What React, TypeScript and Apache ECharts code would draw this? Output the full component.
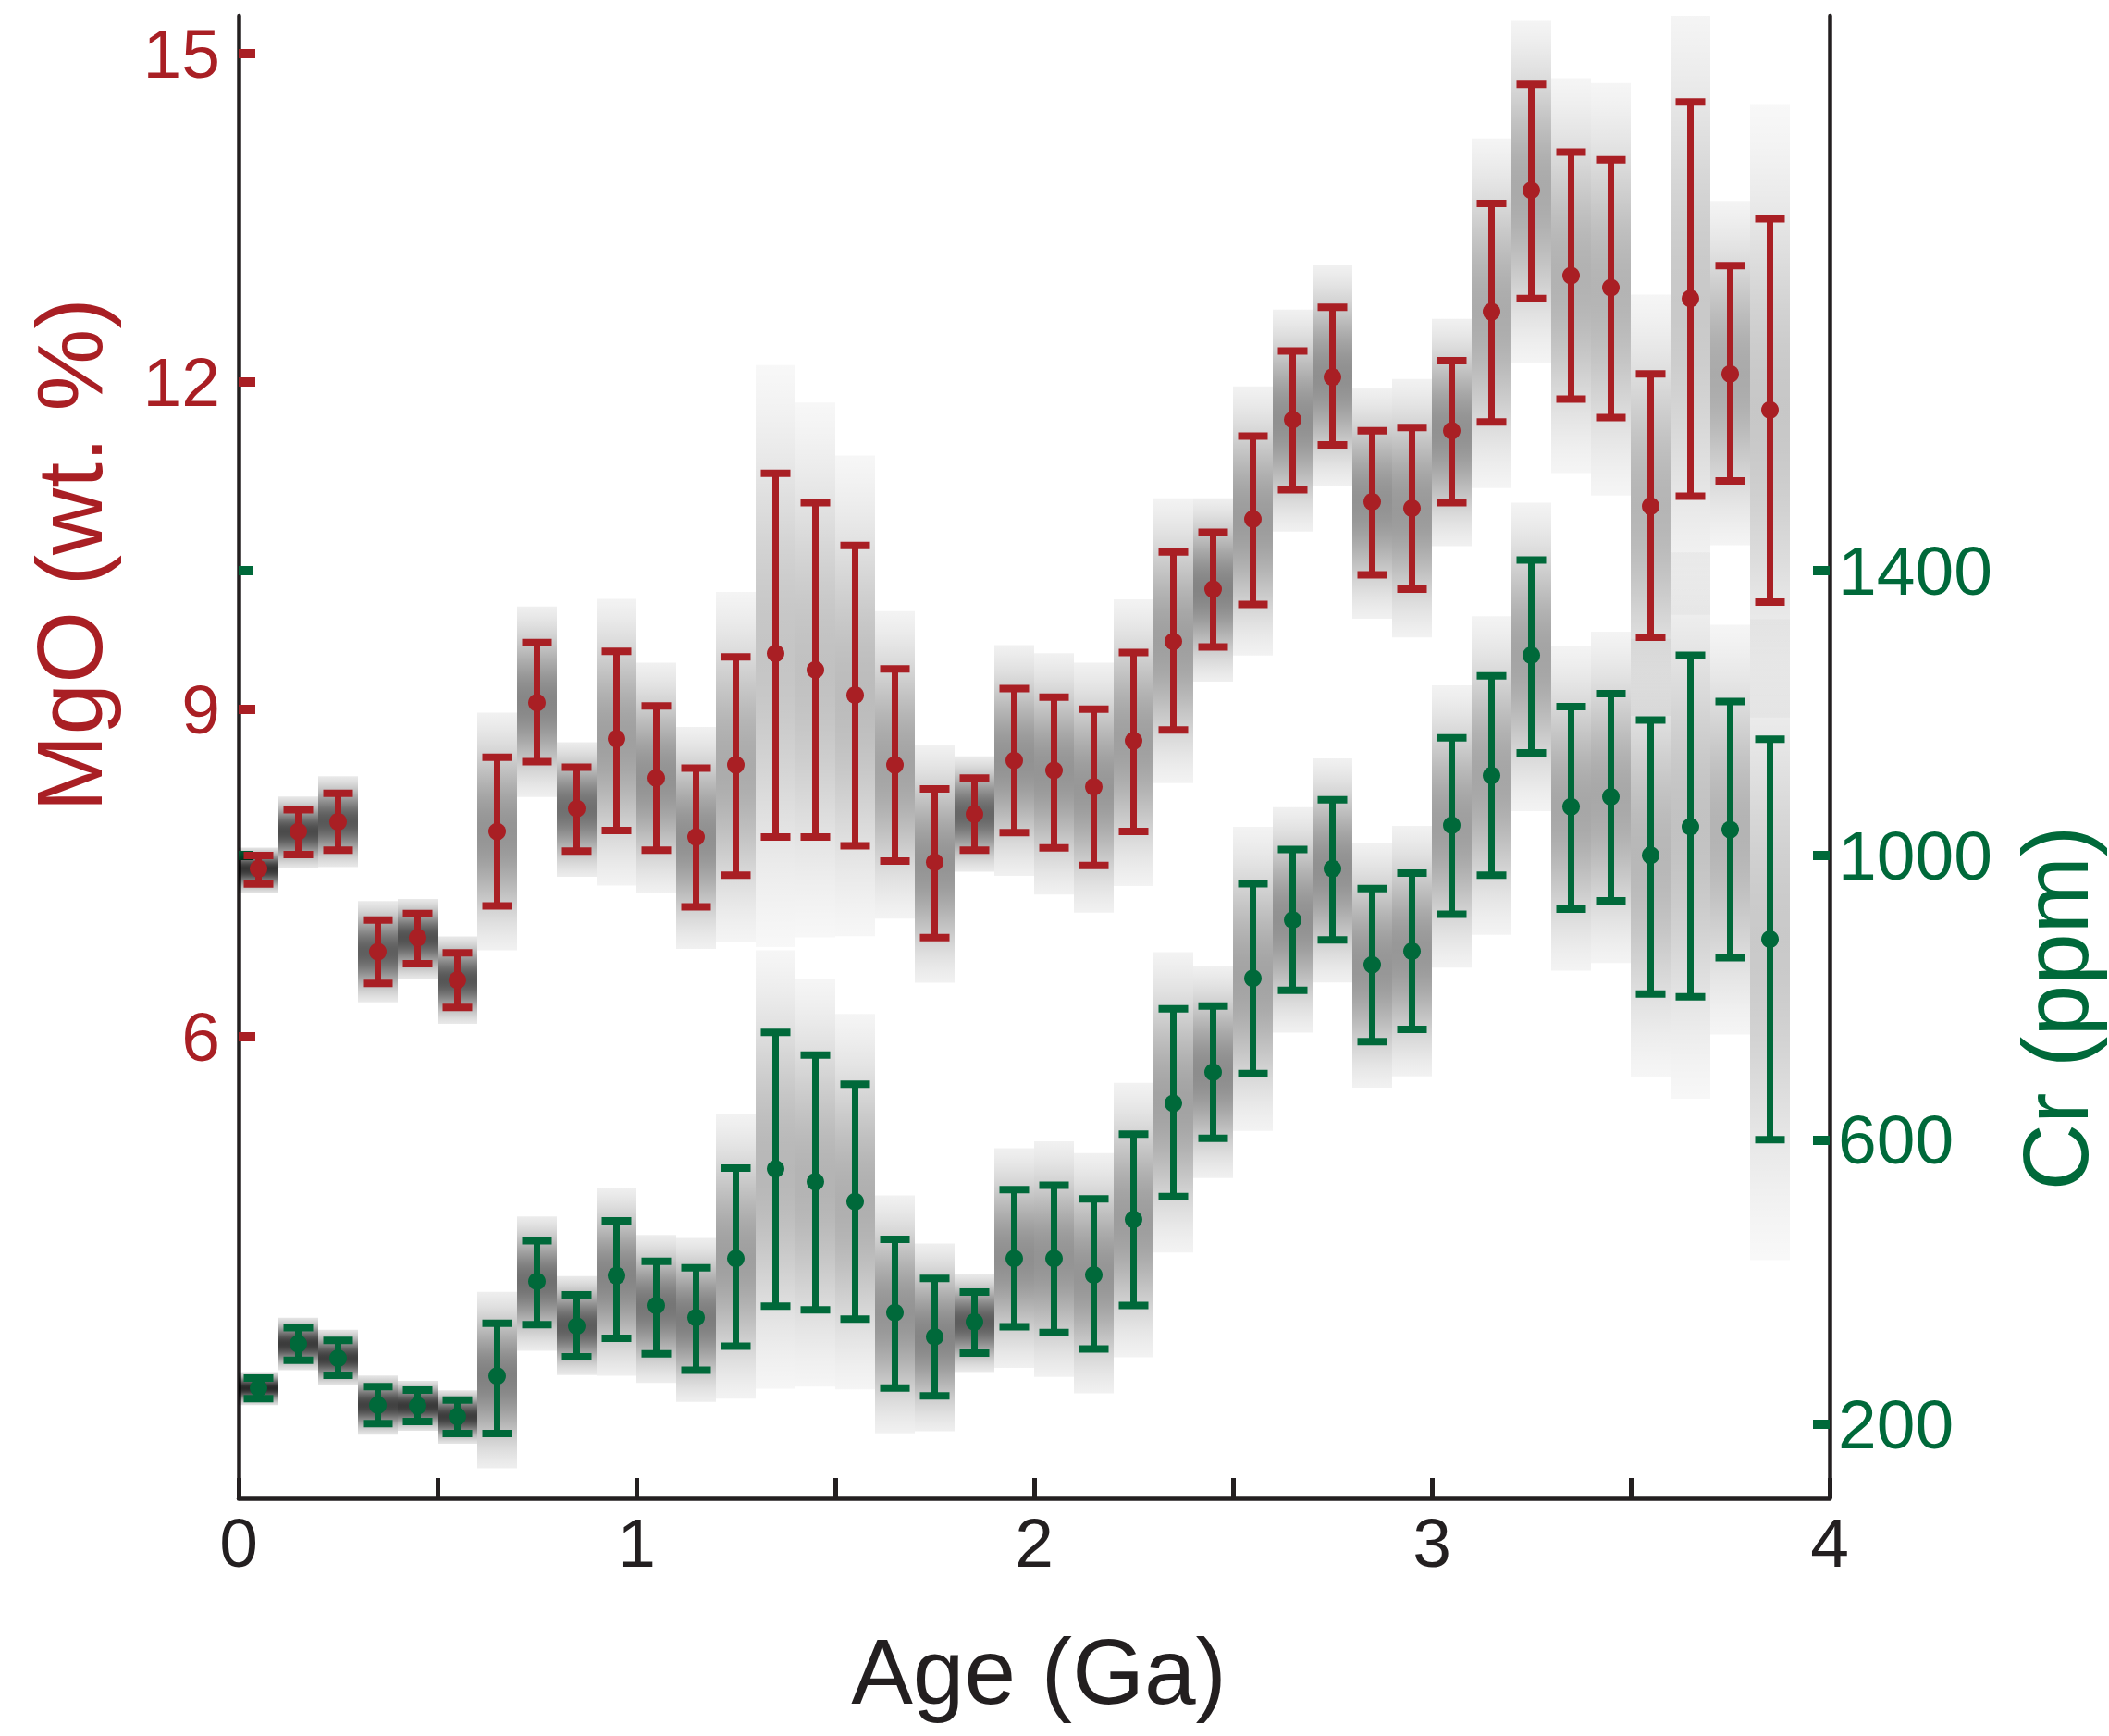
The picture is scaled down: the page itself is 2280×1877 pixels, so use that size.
import React, { useEffect, useRef } from "react";
import * as echarts from "echarts";

// Bin centres (Ga)
const ages = [
  0.05, 0.15, 0.25, 0.35, 0.45, 0.55, 0.65, 0.75, 0.85, 0.95,
  1.05, 1.15, 1.25, 1.35, 1.45, 1.55, 1.65, 1.75, 1.85, 1.95,
  2.05, 2.15, 2.25, 2.35, 2.45, 2.55, 2.65, 2.75, 2.85, 2.95,
  3.05, 3.15, 3.25, 3.35, 3.45, 3.55, 3.65, 3.75, 3.85,
];

// MgO (wt. %)
const mgoMean = [
  7.54, 7.88, 7.97, 6.78, 6.91, 6.52, 7.88, 9.06, 8.09, 8.73,
  8.37, 7.83, 8.49, 9.51, 9.36, 9.13, 8.49, 7.6, 8.04, 8.53,
  8.44, 8.29, 8.71, 9.62, 10.1, 10.74, 11.65, 12.04, 10.9, 10.84,
  11.55, 12.64, 13.75, 12.97, 12.86, 10.86, 12.76, 12.07, 11.74,
];
const mgoHigh = [
  7.66, 8.08, 8.23, 7.07, 7.13, 6.77, 8.56, 9.61, 8.47, 9.53,
  9.03, 8.46, 9.48, 11.16, 10.89, 10.5, 9.37, 8.27, 8.37, 9.19,
  9.11, 9.0, 9.52, 10.44, 10.62, 11.5, 12.28, 12.68, 11.55, 11.58,
  12.19, 13.63, 14.72, 14.1, 14.03, 12.07, 14.56, 13.06, 13.49,
];
const mgoLow = [
  7.4, 7.67, 7.71, 6.49, 6.67, 6.27, 7.2, 8.52, 7.7, 7.89,
  7.71, 7.19, 7.48, 7.83, 7.83, 7.75, 7.61, 6.91, 7.71, 7.87,
  7.73, 7.57, 7.88, 8.81, 9.57, 9.96, 11.01, 11.42, 10.23, 10.1,
  10.89, 11.63, 12.76, 11.84, 11.67, 9.66, 10.95, 11.09, 9.98,
];

// Cr (ppm)
const crMean = [
  251, 313, 293, 227, 226, 211, 268, 401, 338, 409,
  367, 350, 433, 559, 541, 513, 357, 323, 344, 433,
  433, 410, 488, 651, 695, 827, 909, 981, 846, 865,
  1042, 1112, 1281, 1068, 1082, 1000, 1040, 1036, 882,
];
const crHigh = [
  265, 336, 318, 253, 248, 234, 342, 458, 382, 486,
  429, 420, 560, 751, 719, 678, 460, 405, 386, 530,
  536, 517, 608, 784, 788, 960, 1008, 1078, 953, 975,
  1165, 1252, 1415, 1209, 1227, 1190, 1281, 1216, 1163,
];
const crLow = [
  236, 290, 269, 201, 204, 187, 187, 340, 295, 321,
  299, 276, 310, 366, 361, 348, 251, 240, 300, 337,
  329, 306, 367, 520, 602, 693, 810, 881, 738, 755,
  917, 972, 1144, 924, 936, 805, 801, 856, 600,
];

const mgoTicks = [6, 9, 12, 15];
const crTicks = [200, 600, 1000, 1400];
const crLeftTicks = [1000, 1400];
const xTickLabels = [0, 1, 2, 3, 4];

const RED = "#a91f24";
const GREEN = "#00693a";
const INK = "#231f20";
const FONT = '"Liberation Sans", "Helvetica Neue", Helvetica, Arial, sans-serif';

const MGO_MIN = 1.776;
const MGO_MAX = 15.349;
const CR_MIN = 96;
const CR_MAX = 2180;
const BIN_HALF = 0.05;

function buildRows(mean: number[], low: number[], high: number[]) {
  return ages.map((a, i) => [a, mean[i], low[i], high[i]]);
}

function shadeItem(params: any, api: any) {
  const x = api.value(0) as number;
  const m = api.value(1) as number;
  const lo = api.value(2) as number;
  const hi = api.value(3) as number;
  const pm = api.coord([x, m]);
  const ph = api.coord([x, hi]);
  const pl = api.coord([x, lo]);
  const xl = api.coord([x - BIN_HALF, m])[0];
  const xr = api.coord([x + BIN_HALF, m])[0];
  const up = Math.max(pm[1] - ph[1], 4);
  const dn = Math.max(pl[1] - pm[1], 4);
  const top = pm[1] - 1.6 * up;
  const bot = pm[1] + 1.6 * dn;
  const hw = (up + dn) / 2;
  const peak = 1 / (1 + hw / 58);
  const N = 30;
  const offs: number[] = [];
  for (let i = 0; i <= N; i++) offs.push(i / N);
  offs.push((pm[1] - top) / (bot - top));
  offs.sort((a, b) => a - b);
  const stops = offs.map((t) => {
    const py = top + t * (bot - top);
    const d = py < pm[1] ? (pm[1] - py) / up : (py - pm[1]) / dn;
    const a = peak * Math.exp((-d * d) / 1.25);
    return { offset: t, color: `rgba(0,0,0,${a.toFixed(3)})` };
  });
  return {
    type: "rect",
    shape: { x: xl, y: top, width: xr - xl, height: bot - top },
    style: {
      fill: { type: "linear", x: 0, y: 0, x2: 0, y2: 1, colorStops: stops },
    },
  };
}

function barItemFactory(color: string) {
  return (params: any, api: any) => {
    const x = api.value(0) as number;
    const m = api.value(1) as number;
    const lo = api.value(2) as number;
    const hi = api.value(3) as number;
    const pm = api.coord([x, m]);
    const ph = api.coord([x, hi]);
    const pl = api.coord([x, lo]);
    const cx = pm[0];
    const cap = 16;
    return {
      type: "group",
      children: [
        { type: "line", shape: { x1: cx, y1: ph[1], x2: cx, y2: pl[1] }, style: { stroke: color, lineWidth: 7 } },
        { type: "line", shape: { x1: cx - cap, y1: ph[1], x2: cx + cap, y2: ph[1] }, style: { stroke: color, lineWidth: 8 } },
        { type: "line", shape: { x1: cx - cap, y1: pl[1], x2: cx + cap, y2: pl[1] }, style: { stroke: color, lineWidth: 8 } },
        { type: "circle", shape: { cx, cy: pm[1], r: 9.5 }, style: { fill: color } },
      ],
    };
  };
}

export default function App() {
  const ref = useRef<HTMLDivElement>(null);
  useEffect(() => {
    if (!ref.current) return;
    const chart = echarts.init(ref.current, undefined, { renderer: "svg" });
    const mgoRows = buildRows(mgoMean, mgoLow, mgoHigh);
    const crRows = buildRows(crMean, crLow, crHigh);
    chart.setOption({
      animation: false,
      backgroundColor: "#ffffff",
      grid: { left: 258, right: 302, top: 17, bottom: 257, containLabel: false },
      xAxis: {
        type: "value",
        min: 0,
        max: 4,
        interval: 0.5,
        axisLine: { show: true, lineStyle: { color: INK, width: 4.5 } },
        axisTick: { show: true, inside: true, length: 22, lineStyle: { color: INK, width: 5 } },
        splitLine: { show: false },
        axisLabel: {
          margin: 10,
          color: INK,
          fontSize: 75,
          fontFamily: FONT,
          formatter: (v: number) => (xTickLabels.includes(v) ? String(v) : ""),
        },
      },
      yAxis: [
        {
          type: "value",
          position: "left",
          min: MGO_MIN,
          max: MGO_MAX,
          axisLine: { show: true, lineStyle: { color: INK, width: 4.5 } },
          axisTick: { show: true, inside: true, length: 18, customValues: mgoTicks, lineStyle: { color: RED, width: 10 } },
          splitLine: { show: false },
          axisLabel: {
            show: true,
            customValues: mgoTicks,
            margin: 20,
            color: RED,
            fontSize: 75,
            fontFamily: FONT,
            formatter: (v: number) => String(v),
          },
        },
        {
          type: "value",
          position: "right",
          min: CR_MIN,
          max: CR_MAX,
          axisLine: { show: true, lineStyle: { color: INK, width: 4.5 } },
          axisTick: { show: true, inside: true, length: 18, customValues: crTicks, lineStyle: { color: GREEN, width: 10 } },
          splitLine: { show: false },
          axisLabel: {
            show: true,
            customValues: crTicks,
            margin: 9,
            color: GREEN,
            fontSize: 75,
            fontFamily: FONT,
            formatter: (v: number) => String(v),
          },
        },
        {
          type: "value",
          position: "left",
          offset: 0,
          min: CR_MIN,
          max: CR_MAX,
          axisLine: { show: false },
          axisTick: { show: true, inside: true, length: 16, customValues: crLeftTicks, lineStyle: { color: GREEN, width: 10 } },
          splitLine: { show: false },
          axisLabel: { show: false },
        },
      ],
      series: [
        {
          type: "custom",
          name: "MgO shade",
          yAxisIndex: 0,
          z: 1,
          clip: true,
          renderItem: shadeItem,
          encode: { x: 0, y: [1, 2, 3] },
          data: mgoRows,
        },
        {
          type: "custom",
          name: "Cr shade",
          yAxisIndex: 1,
          z: 1,
          clip: true,
          renderItem: shadeItem,
          encode: { x: 0, y: [1, 2, 3] },
          data: crRows,
        },
        {
          type: "custom",
          name: "MgO",
          yAxisIndex: 0,
          z: 3,
          clip: false,
          renderItem: barItemFactory(RED),
          encode: { x: 0, y: [1, 2, 3] },
          data: mgoRows,
        },
        {
          type: "custom",
          name: "Cr",
          yAxisIndex: 1,
          z: 3,
          clip: false,
          renderItem: barItemFactory(GREEN),
          encode: { x: 0, y: [1, 2, 3] },
          data: crRows,
        },
      ],
      graphic: [
        {
          type: "text",
          x: 75,
          y: 600,
          rotation: Math.PI / 2,
          style: { text: "MgO (wt. %)", fill: RED, fontSize: 100, fontFamily: FONT, align: "center", verticalAlign: "middle" },
        },
        {
          type: "text",
          x: 2222,
          y: 1090,
          rotation: Math.PI / 2,
          style: { text: "Cr (ppm)", fill: GREEN, fontSize: 100, fontFamily: FONT, align: "center", verticalAlign: "middle" },
        },
        {
          type: "text",
          x: 1123,
          y: 1807,
          style: { text: "Age (Ga)", fill: INK, fontSize: 100, fontFamily: FONT, align: "center", verticalAlign: "middle" },
        },
      ],
    });
    return () => chart.dispose();
  }, []);
  return (
    <div
      ref={ref}
      style={{ position: "absolute", left: 0, top: 0, width: 2280, height: 1877, background: "#fff" }}
    />
  );
}
